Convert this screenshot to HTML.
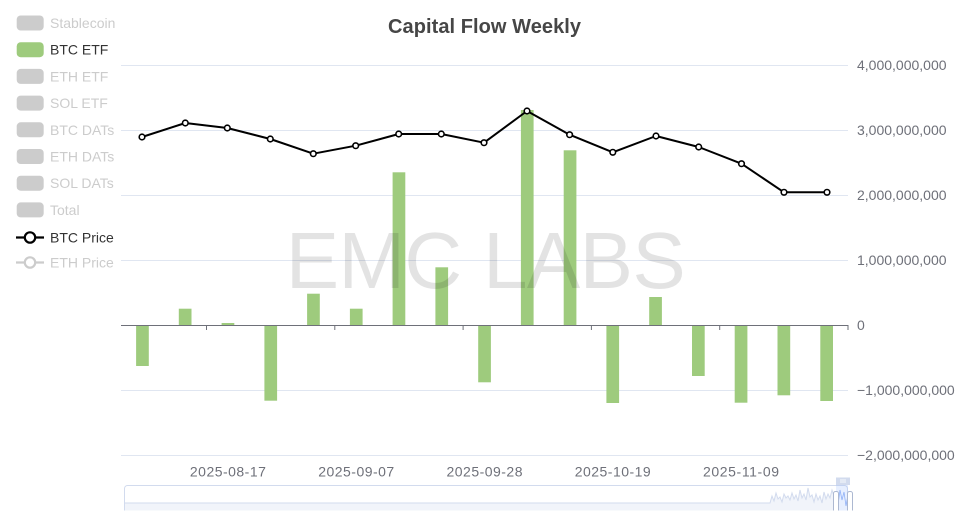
<!DOCTYPE html>
<html><head><meta charset="utf-8">
<style>
html,body{margin:0;padding:0;background:#fff;}
svg{display:block;font-family:"Liberation Sans",Arial,sans-serif;}
</style></head>
<body>
<svg width="964" height="524" viewBox="0 0 964 524" xmlns="http://www.w3.org/2000/svg">
<defs>
<clipPath id="sl"><rect x="0" y="470" width="964" height="40.5"/></clipPath>
</defs>
<rect width="964" height="524" fill="#fff"/>
<!-- title -->
<text x="484.5" y="33" text-anchor="middle" font-size="20" font-weight="bold" fill="#464646" textLength="193">Capital Flow Weekly</text>

<!-- grid lines -->
<g stroke="#E0E6F1" stroke-width="1">
<line x1="121" y1="65.5" x2="848" y2="65.5"/>
<line x1="121" y1="130.5" x2="848" y2="130.5"/>
<line x1="121" y1="195.5" x2="848" y2="195.5"/>
<line x1="121" y1="260.5" x2="848" y2="260.5"/>
<line x1="121" y1="390.5" x2="848" y2="390.5"/>
<line x1="121" y1="455.5" x2="848" y2="455.5"/>
</g>

<!-- y labels -->
<g font-size="14" fill="#6E7079">
<text x="857" y="70">4,000,000,000</text>
<text x="857" y="135">3,000,000,000</text>
<text x="857" y="200">2,000,000,000</text>
<text x="857" y="265">1,000,000,000</text>
<text x="857" y="330">0</text>
<text x="857" y="395">−1,000,000,000</text>
<text x="857" y="460">−2,000,000,000</text>
</g>

<!-- bars -->
<g fill="#9ecb7d">
<rect x="136.1" y="325" width="12.7" height="41"/>
<rect x="178.8" y="308.7" width="12.7" height="16.3"/>
<rect x="221.6" y="323" width="12.7" height="2"/>
<rect x="264.4" y="325" width="12.7" height="75.7"/>
<rect x="307.1" y="293.7" width="12.7" height="31.3"/>
<rect x="349.9" y="308.7" width="12.7" height="16.3"/>
<rect x="392.6" y="172.3" width="12.7" height="152.7"/>
<rect x="435.4" y="267.3" width="12.7" height="57.7"/>
<rect x="478.2" y="325" width="12.7" height="57.3"/>
<rect x="520.9" y="110" width="12.7" height="215"/>
<rect x="563.7" y="150.3" width="12.7" height="174.7"/>
<rect x="606.4" y="325" width="12.7" height="78"/>
<rect x="649.2" y="297" width="12.7" height="28"/>
<rect x="692" y="325" width="12.7" height="51"/>
<rect x="734.7" y="325" width="12.7" height="77.7"/>
<rect x="777.5" y="325" width="12.7" height="70.3"/>
<rect x="820.3" y="325" width="12.7" height="76"/>
</g>

<!-- x axis -->
<line x1="121" y1="325.5" x2="848" y2="325.5" stroke="#6E7079" stroke-width="1"/>
<g stroke="#6E7079" stroke-width="1">
<line x1="206.5" y1="325" x2="206.5" y2="330"/>
<line x1="334.8" y1="325" x2="334.8" y2="330"/>
<line x1="463.1" y1="325" x2="463.1" y2="330"/>
<line x1="591.4" y1="325" x2="591.4" y2="330"/>
<line x1="719.7" y1="325" x2="719.7" y2="330"/>
<line x1="848" y1="325" x2="848" y2="330"/>
</g>
<g font-size="14" fill="#6E7079" text-anchor="middle">
<text x="227.9" y="476.5" textLength="76">2025-08-17</text>
<text x="356.2" y="476.5" textLength="76">2025-09-07</text>
<text x="484.5" y="476.5" textLength="76">2025-09-28</text>
<text x="612.7" y="476.5" textLength="76">2025-10-19</text>
<text x="741" y="476.5" textLength="76">2025-11-09</text>
</g>

<!-- price line -->
<polyline fill="none" stroke="#000" stroke-width="2" stroke-linejoin="round"
points="142,137 185.3,123 227.3,128 270.3,139 313.3,153.7 355.7,145.7 398.7,134 441.3,134 484,142.7 527,111 569.6,134.7 612.8,152.3 656,136 698.7,147 741.5,163.7 784,192.3 827,192.3"/>
<g fill="#fff" stroke="#000" stroke-width="1.6">
<circle cx="142" cy="137" r="2.8"/>
<circle cx="185.3" cy="123" r="2.8"/>
<circle cx="227.3" cy="128" r="2.8"/>
<circle cx="270.3" cy="139" r="2.8"/>
<circle cx="313.3" cy="153.7" r="2.8"/>
<circle cx="355.7" cy="145.7" r="2.8"/>
<circle cx="398.7" cy="134" r="2.8"/>
<circle cx="441.3" cy="134" r="2.8"/>
<circle cx="484" cy="142.7" r="2.8"/>
<circle cx="527" cy="111" r="2.8"/>
<circle cx="569.6" cy="134.7" r="2.8"/>
<circle cx="612.8" cy="152.3" r="2.8"/>
<circle cx="656" cy="136" r="2.8"/>
<circle cx="698.7" cy="147" r="2.8"/>
<circle cx="741.5" cy="163.7" r="2.8"/>
<circle cx="784" cy="192.3" r="2.8"/>
<circle cx="827" cy="192.3" r="2.8"/>
</g>

<!-- watermark -->
<text x="285.7" y="288" font-size="80" fill="rgba(0,0,0,0.11)" textLength="400">EMC LABS</text>

<!-- legend -->
<g font-size="14">
<rect x="16.7" y="15.5" width="27" height="15" rx="4" fill="#ccc"/>
<text x="50" y="28" fill="#ccc">Stablecoin</text>
<rect x="16.7" y="42.2" width="27" height="15" rx="4" fill="#9ecb7d"/>
<text x="50" y="54.7" fill="#333">BTC ETF</text>
<rect x="16.7" y="68.9" width="27" height="15" rx="4" fill="#ccc"/>
<text x="50" y="81.4" fill="#ccc">ETH ETF</text>
<rect x="16.7" y="95.6" width="27" height="15" rx="4" fill="#ccc"/>
<text x="50" y="108.1" fill="#ccc">SOL ETF</text>
<rect x="16.7" y="122.3" width="27" height="15" rx="4" fill="#ccc"/>
<text x="50" y="134.8" fill="#ccc">BTC DATs</text>
<rect x="16.7" y="149" width="27" height="15" rx="4" fill="#ccc"/>
<text x="50" y="161.5" fill="#ccc">ETH DATs</text>
<rect x="16.7" y="175.7" width="27" height="15" rx="4" fill="#ccc"/>
<text x="50" y="188.2" fill="#ccc">SOL DATs</text>
<rect x="16.7" y="202.4" width="27" height="15" rx="4" fill="#ccc"/>
<text x="50" y="214.9" fill="#ccc">Total</text>
<line x1="16" y1="237.5" x2="44" y2="237.5" stroke="#000" stroke-width="2.2"/>
<circle cx="30" cy="237.5" r="5.2" fill="#fff" stroke="#000" stroke-width="2.2"/>
<text x="50" y="242.5" fill="#333">BTC Price</text>
<line x1="16" y1="262.5" x2="44" y2="262.5" stroke="#ccc" stroke-width="2.2"/>
<circle cx="30" cy="262.5" r="5.2" fill="#fff" stroke="#ccc" stroke-width="2.2"/>
<text x="50" y="267.5" fill="#ccc">ETH Price</text>
</g>

<!-- data zoom slider (clipped at bottom like reference) -->
<g clip-path="url(#sl)">
<rect x="124.5" y="485.5" width="723" height="40" rx="3" fill="none" stroke="#d2dbee" stroke-width="1"/>
<path d="M125,503 L770,503 L772,496 L774,501 L776,493 L778,499 L780,497 L782,502 L784,494 L786,498 L788,496 L790,500 L792,493 L794,499 L796,495 L798,501 L800,490 L802,498 L804,494 L806,500 L808,488 L810,497 L812,495 L814,502 L816,494 L818,500 L820,496 L822,503 L824,492 L826,499 L828,494 L830,498 L832,490 L834,496 L834,525 L125,525 Z" fill="rgba(210,219,238,0.3)" stroke="none"/>
<polyline fill="none" stroke="#d2dbee" stroke-width="1" points="125,503 770,503 772,496 774,501 776,493 778,499 780,497 782,502 784,494 786,498 788,496 790,500 792,493 794,499 796,495 798,501 800,490 802,498 804,494 806,500 808,488 810,497 812,495 814,502 816,494 818,500 820,496 822,503 824,492 826,499 828,494 830,498 832,490 834,496"/>
<rect x="836" y="485" width="12" height="40" fill="rgba(135,175,274,0.2)"/>
<polyline fill="none" stroke="#8fb0f7" stroke-width="0.8" points="836,494 838,505 840,490 842,500 844,492 846,506 848,495"/>
<rect x="833.5" y="491.5" width="5" height="22" rx="2" fill="#fff" stroke="#ACB8D1" stroke-width="1"/>
<rect x="847.5" y="491.5" width="5" height="22" rx="2" fill="#fff" stroke="#ACB8D1" stroke-width="1"/>
</g>
<rect x="836" y="477.5" width="14" height="7.5" fill="#d2dbee"/>
<g stroke="#fff" stroke-width="0.8">
<line x1="841" y1="479" x2="841" y2="483"/>
<line x1="843" y1="479" x2="843" y2="483"/>
<line x1="845" y1="479" x2="845" y2="483"/>
</g>
</svg>
</body></html>
